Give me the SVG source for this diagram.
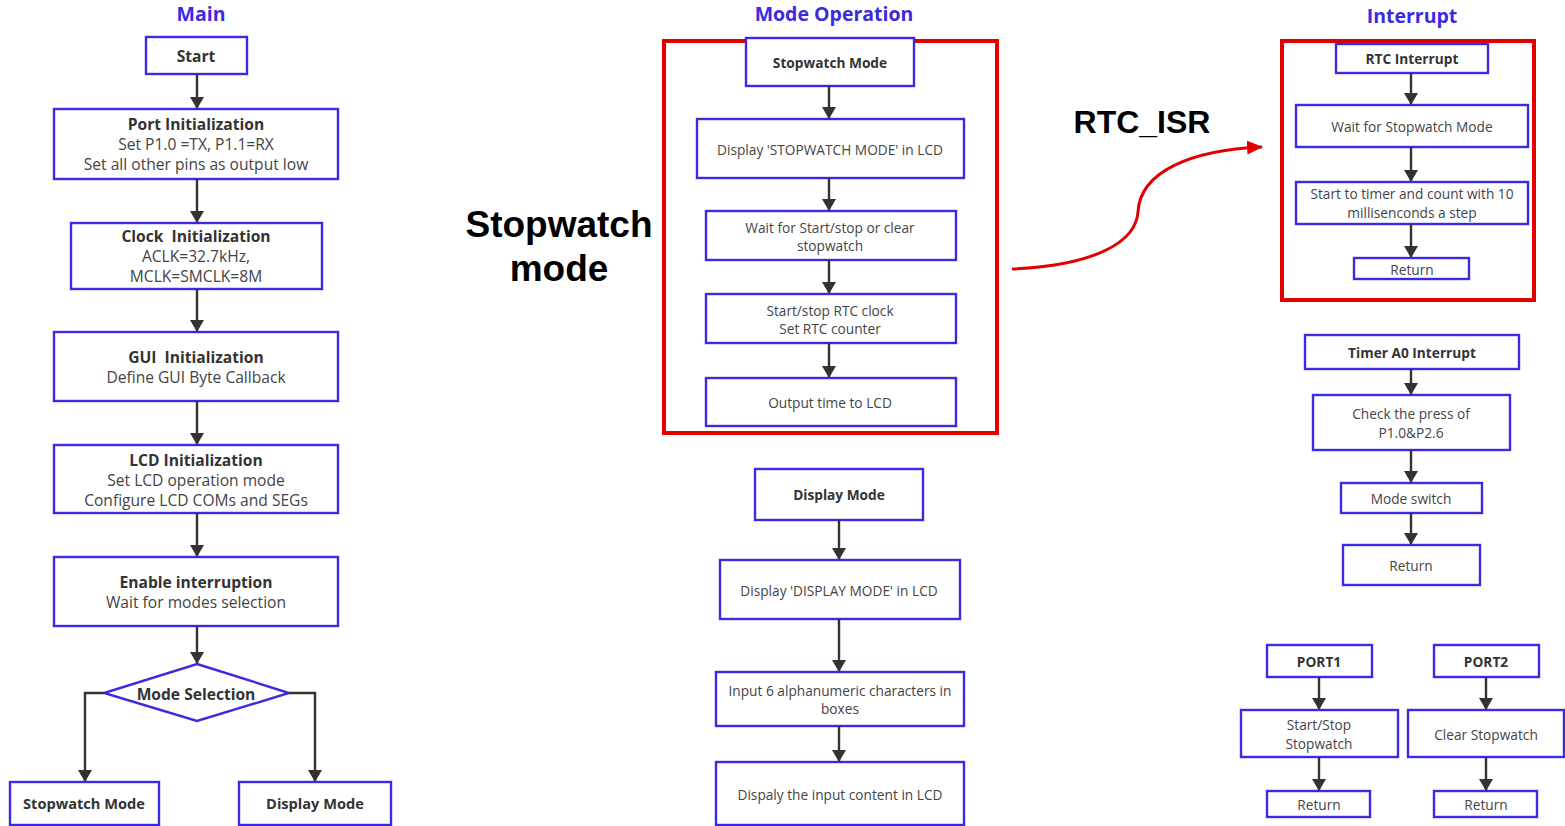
<svg xmlns="http://www.w3.org/2000/svg" width="1565" height="826" viewBox="0 0 1565 826">
<defs>
<marker id="ah" viewBox="0 0 12 14" refX="11" refY="7" markerWidth="12" markerHeight="14" markerUnits="userSpaceOnUse" orient="auto"><path d="M0,0 L12,7 L0,14 Z" fill="#333"/></marker>
<marker id="rah" viewBox="0 0 14 12" refX="13" refY="6" markerWidth="16" markerHeight="14" markerUnits="userSpaceOnUse" orient="auto"><path d="M0,0 L14,6 L0,12 Z" fill="#e00000"/></marker>
<style>
.b{fill:#fff;stroke:#3a2ae0;stroke-width:2.4}
.red{fill:none;stroke:#e00000;stroke-width:4}
.t{font-family:"Open Sans","Noto Sans",sans-serif;fill:#444;text-anchor:middle;dominant-baseline:central}
.m{font-size:15.6px}
.mb{font-size:14.6px}
.s{font-size:13.7px}
.bd{font-weight:bold;fill:#333}
.ti{font-family:"Open Sans","Noto Sans",sans-serif;font-weight:bold;font-size:19.5px;fill:#3a2ae0;text-anchor:middle;dominant-baseline:central}
.big{font-family:"Liberation Sans",Arial,sans-serif;font-weight:bold;fill:#000;text-anchor:middle;dominant-baseline:central}
.c{fill:none;stroke:#333;stroke-width:2.4;marker-end:url(#ah)}
</style>
</defs>
<rect width="1565" height="826" fill="#fff"/>

<text class="ti" x="201" y="13">Main</text>
<text class="ti" x="834" y="13">Mode Operation</text>
<text class="ti" x="1412" y="15">Interrupt</text>

<text class="big" x="559" y="224" font-size="37">Stopwatch</text>
<text class="big" x="559" y="268" font-size="37">mode</text>
<text class="big" x="1142" y="122" font-size="32">RTC_ISR</text>

<g id="highlights">
<rect class="red" x="664" y="41" width="333" height="392"/>
<rect class="red" x="1282" y="41" width="252" height="259"/>
</g>

<g id="main-start"><rect class="b" x="146" y="37" width="101" height="37"/><text class="t m bd" x="196" y="56">Start</text></g>
<g id="main-port"><rect class="b" x="54" y="109" width="284" height="70"/>
<text class="t m bd" x="196" y="124">Port Initialization</text><text class="t m" x="196" y="144">Set P1.0 =TX, P1.1=RX</text><text class="t m" x="196" y="164">Set all other pins as output low</text></g>
<g id="main-clock"><rect class="b" x="71" y="223" width="251" height="66"/>
<text class="t m bd" x="196" y="236" xml:space="preserve">Clock  Initialization</text><text class="t m" x="196" y="256">ACLK=32.7kHz,</text><text class="t m" x="196" y="276">MCLK=SMCLK=8M</text></g>
<g id="main-gui"><rect class="b" x="54" y="332" width="284" height="69"/>
<text class="t m bd" x="196" y="357" xml:space="preserve">GUI  Initialization</text><text class="t m" x="196" y="377">Define GUI Byte Callback</text></g>
<g id="main-lcd"><rect class="b" x="54" y="445" width="284" height="68"/>
<text class="t m bd" x="196" y="460">LCD Initialization</text><text class="t m" x="196" y="480">Set LCD operation mode</text><text class="t m" x="196" y="500">Configure LCD COMs and SEGs</text></g>
<g id="main-enable"><rect class="b" x="54" y="557" width="284" height="69"/>
<text class="t m bd" x="196" y="582">Enable interruption</text><text class="t m" x="196" y="602">Wait for modes selection</text></g>
<g id="main-select"><polygon class="b" points="197,664 289,693 197,721 104,693"/><text class="t m bd" x="196" y="694">Mode Selection</text></g>
<g id="main-sw"><rect class="b" x="10" y="782" width="149" height="43"/><text class="t mb bd" x="84" y="803">Stopwatch Mode</text></g>
<g id="main-disp"><rect class="b" x="239" y="782" width="152" height="43"/><text class="t mb bd" x="315" y="803">Display Mode</text></g>

<g id="sw-mode"><rect class="b" x="746" y="38" width="168" height="48"/><text class="t s bd" x="830" y="62">Stopwatch Mode</text></g>
<g id="sw-display"><rect class="b" x="697" y="119" width="267" height="59"/><text class="t s" x="830" y="149">Display 'STOPWATCH MODE' in LCD</text></g>
<g id="sw-wait"><rect class="b" x="706" y="211" width="250" height="49"/><text class="t s" x="830" y="227">Wait for Start/stop or clear</text><text class="t s" x="830" y="245">stopwatch</text></g>
<g id="sw-rtc"><rect class="b" x="706" y="294" width="250" height="49"/><text class="t s" x="830" y="310">Start/stop RTC clock</text><text class="t s" x="830" y="328">Set RTC counter</text></g>
<g id="sw-output"><rect class="b" x="706" y="378" width="250" height="48"/><text class="t s" x="830" y="402">Output time to LCD</text></g>

<g id="dm-mode"><rect class="b" x="755" y="469" width="168" height="51"/><text class="t s bd" x="839" y="494">Display Mode</text></g>
<g id="dm-display"><rect class="b" x="720" y="560" width="240" height="59"/><text class="t s" x="839" y="590">Display 'DISPLAY MODE' in LCD</text></g>
<g id="dm-input"><rect class="b" x="716" y="672" width="248" height="54"/><text class="t s" x="840" y="690">Input 6 alphanumeric characters in</text><text class="t s" x="840" y="708">boxes</text></g>
<g id="dm-show"><rect class="b" x="716" y="762" width="248" height="63"/><text class="t s" x="840" y="794">Dispaly the input content in LCD</text></g>

<g id="rtc-int"><rect class="b" x="1336" y="44" width="152" height="29"/><text class="t s bd" x="1412" y="58">RTC Interrupt</text></g>
<g id="rtc-wait"><rect class="b" x="1296" y="105" width="232" height="42"/><text class="t s" x="1412" y="126">Wait for Stopwatch Mode</text></g>
<g id="rtc-start"><rect class="b" x="1296" y="182" width="232" height="42"/><text class="t s" x="1412" y="193">Start to timer and count with 10</text><text class="t s" x="1412" y="212">millisenconds a step</text></g>
<g id="rtc-return"><rect class="b" x="1354" y="258" width="115" height="21"/><text class="t s" x="1412" y="269">Return</text></g>

<g id="ta-int"><rect class="b" x="1305" y="335" width="214" height="34"/><text class="t s bd" x="1412" y="352">Timer A0 Interrupt</text></g>
<g id="ta-check"><rect class="b" x="1313" y="395" width="197" height="55"/><text class="t s" x="1411" y="413">Check the press of</text><text class="t s" x="1411" y="432">P1.0&amp;P2.6</text></g>
<g id="ta-switch"><rect class="b" x="1341" y="483" width="141" height="30"/><text class="t s" x="1411" y="498">Mode switch</text></g>
<g id="ta-return"><rect class="b" x="1343" y="545" width="137" height="40"/><text class="t s" x="1411" y="565">Return</text></g>

<g id="p1"><rect class="b" x="1267" y="645" width="105" height="32"/><text class="t s bd" x="1319" y="661">PORT1</text></g>
<g id="p1-act"><rect class="b" x="1241" y="710" width="157" height="47"/><text class="t s" x="1319" y="724">Start/Stop</text><text class="t s" x="1319" y="743">Stopwatch</text></g>
<g id="p1-return"><rect class="b" x="1267" y="791" width="103" height="26"/><text class="t s" x="1319" y="804">Return</text></g>
<g id="p2"><rect class="b" x="1434" y="645" width="105" height="32"/><text class="t s bd" x="1486" y="661">PORT2</text></g>
<g id="p2-act"><rect class="b" x="1408" y="710" width="156" height="47"/><text class="t s" x="1486" y="734">Clear Stopwatch</text></g>
<g id="p2-return"><rect class="b" x="1434" y="791" width="103" height="26"/><text class="t s" x="1486" y="804">Return</text></g>

<g id="connectors">
<line class="c" x1="197" y1="74" x2="197" y2="108"/>
<line class="c" x1="197" y1="179" x2="197" y2="222"/>
<line class="c" x1="197" y1="289" x2="197" y2="331"/>
<line class="c" x1="197" y1="401" x2="197" y2="444"/>
<line class="c" x1="197" y1="513" x2="197" y2="556"/>
<line class="c" x1="197" y1="626" x2="197" y2="663"/>
<polyline class="c" points="104,693 85,693 85,781"/>
<polyline class="c" points="289,693 315,693 315,781"/>

<line class="c" x1="829" y1="86" x2="829" y2="118"/>
<line class="c" x1="829" y1="178" x2="829" y2="210"/>
<line class="c" x1="829" y1="260" x2="829" y2="293"/>
<line class="c" x1="829" y1="343" x2="829" y2="377"/>

<line class="c" x1="839" y1="520" x2="839" y2="559"/>
<line class="c" x1="839" y1="619" x2="839" y2="671"/>
<line class="c" x1="839" y1="726" x2="839" y2="761"/>

<line class="c" x1="1411" y1="73" x2="1411" y2="104"/>
<line class="c" x1="1411" y1="147" x2="1411" y2="181"/>
<line class="c" x1="1411" y1="224" x2="1411" y2="257"/>

<line class="c" x1="1411" y1="369" x2="1411" y2="394"/>
<line class="c" x1="1411" y1="450" x2="1411" y2="482"/>
<line class="c" x1="1411" y1="513" x2="1411" y2="544"/>

<line class="c" x1="1319" y1="677" x2="1319" y2="709"/>
<line class="c" x1="1319" y1="757" x2="1319" y2="790"/>
<line class="c" x1="1486" y1="677" x2="1486" y2="709"/>
<line class="c" x1="1486" y1="757" x2="1486" y2="790"/>

<path d="M1012,269 C1100,265 1136,240 1138,212 C1140,172 1190,150 1262,147" fill="none" stroke="#e00000" stroke-width="3" marker-end="url(#rah)"/>
</g>
</svg>
